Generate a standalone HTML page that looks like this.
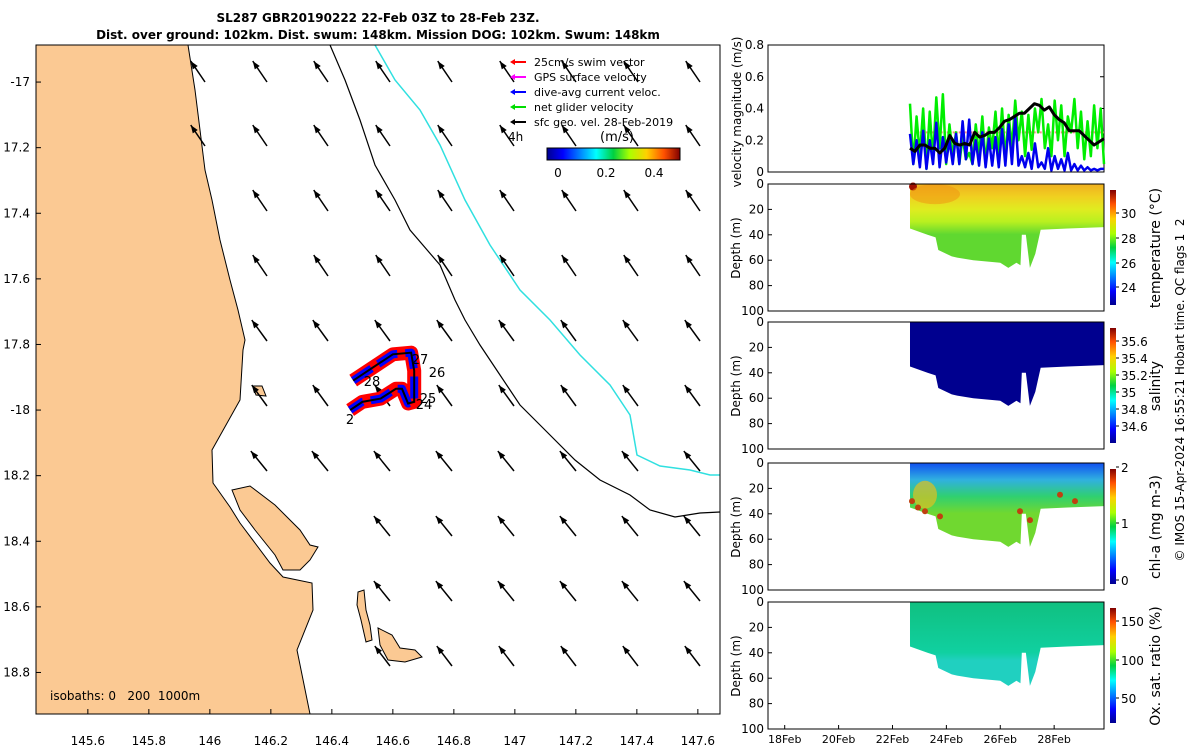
<!DOCTYPE html>
<html><head><meta charset="utf-8"><style>
body{margin:0;background:#fff;width:1200px;height:750px;overflow:hidden}
svg{font-family:"DejaVu Sans","Liberation Sans",sans-serif}
text{white-space:pre}
</style></head><body>
<svg id="s" width="1200" height="750" xmlns="http://www.w3.org/2000/svg">
<defs>
<linearGradient id="jet" x1="0" y1="1" x2="0" y2="0">
<stop offset="0" stop-color="#00008f"/><stop offset="0.12" stop-color="#0000ff"/><stop offset="0.37" stop-color="#00ffff"/><stop offset="0.5" stop-color="#00d040"/><stop offset="0.62" stop-color="#aaff00"/><stop offset="0.75" stop-color="#ffd000"/><stop offset="0.88" stop-color="#ff5000"/><stop offset="1" stop-color="#800000"/></linearGradient>
<linearGradient id="jeth" x1="0" y1="0" x2="1" y2="0">
<stop offset="0" stop-color="#00008f"/><stop offset="0.12" stop-color="#0000ff"/><stop offset="0.37" stop-color="#00ffff"/><stop offset="0.5" stop-color="#00d040"/><stop offset="0.62" stop-color="#aaff00"/><stop offset="0.75" stop-color="#ffd000"/><stop offset="0.88" stop-color="#ff5000"/><stop offset="1" stop-color="#800000"/></linearGradient>
<linearGradient id="gT" x1="0" y1="0" x2="0" y2="1"><stop offset="0" stop-color="#f0b020"/><stop offset="0.15" stop-color="#f0d020"/><stop offset="0.3" stop-color="#e0ec20"/><stop offset="0.45" stop-color="#b8f020"/><stop offset="0.6" stop-color="#60d830"/></linearGradient>
<linearGradient id="gC" x1="0" y1="0" x2="0" y2="1"><stop offset="0" stop-color="#1050f0"/><stop offset="0.2" stop-color="#30b0e0"/><stop offset="0.4" stop-color="#30d070"/><stop offset="0.6" stop-color="#70d830"/></linearGradient>
<linearGradient id="gO" x1="0" y1="0" x2="0" y2="1"><stop offset="0" stop-color="#10c080"/><stop offset="0.6" stop-color="#10d0a0"/><stop offset="0.7" stop-color="#20d0c0"/></linearGradient>
</defs>
<g id="map"></g>
<g id="right"></g>
<text x="1184" y="390" font-size="12" transform="rotate(-90 1184 390)" text-anchor="middle">© IMOS 15-Apr-2024 16:55:21 Hobart time. QC flags 1  2</text>
</svg>
<script>
// ---------- data ----------
const mapLonTicks=[145.6,145.8,146,146.2,146.4,146.6,146.8,147,147.2,147.4,147.6];
const mapLatTicks=[-17,-17.2,-17.4,-17.6,-17.8,-18,-18.2,-18.4,-18.6,-18.8];
const trackLon=[146.47,146.60,146.66,146.67,146.67,146.65,146.63,146.61,146.56,146.50,146.46];
const trackLat=[-17.91,-17.83,-17.825,-17.88,-17.975,-17.98,-17.935,-17.935,-17.965,-17.975,-18.0];
const arrowU=[-0.15,-0.15,-0.15,-0.15,-0.16,-0.16,-0.17,-0.17,-0.17,-0.16];
const arrowV=[0.22,0.22,0.22,0.22,0.22,0.22,0.21,0.21,0.21,0.21];
const dateTicks=[18,20,22,24,26,28];
const velT0=22.65, velT1=29.85;
const blackVel=[0.15,0.13,0.17,0.17,0.15,0.15,0.12,0.15,0.23,0.18,0.17,0.18,0.17,0.25,0.22,0.23,0.25,0.25,0.28,0.32,0.33,0.35,0.37,0.37,0.40,0.43,0.42,0.39,0.41,0.36,0.33,0.31,0.26,0.26,0.26,0.23,0.20,0.17,0.19,0.21];
const greenVel=[0.43,0.05,0.35,0.10,0.40,0.02,0.38,0.08,0.47,0.15,0.49,0.05,0.30,0.10,0.25,0.05,0.22,0.08,0.12,0.05,0.30,0.10,0.35,0.05,0.28,0.15,0.38,0.10,0.40,0.08,0.36,0.15,0.45,0.20,0.38,0.10,0.36,0.14,0.40,0.25,0.46,0.15,0.30,0.10,0.45,0.20,0.42,0.10,0.35,0.25,0.46,0.15,0.38,0.08,0.32,0.10,0.42,0.15,0.40,0.05];
const blueVel=[0.24,0.05,0.20,0.03,0.26,0.02,0.20,0.05,0.31,0.03,0.22,0.06,0.20,0.05,0.24,0.05,0.32,0.08,0.33,0.05,0.20,0.04,0.25,0.03,0.21,0.04,0.22,0.03,0.27,0.04,0.30,0.05,0.35,0.04,0.10,0.03,0.12,0.02,0.18,0.03,0.06,0.02,0.15,0.01,0.10,0.02,0.08,0.01,0.12,0.01,0.05,0.01,0.04,0.01,0.03,0.01,0.02,0.01,0.02,0.02];
const swimVel=0.25;
const profDay=[22.65,23.3,23.6,23.7,24.2,24.4,25.0,26.0,26.3,26.6,26.75,26.8,26.95,27.1,27.3,27.5,28.5,29.85];
const profDepth=[35,40,42,52,57,58,60,62,66,62,64,40,40,66,55,36,35,34];
// ---------- helpers ----------
const S=document.getElementById('s'),NS='http://www.w3.org/2000/svg';
function el(t,a,p){const e=document.createElementNS(NS,t);for(const k in a)e.setAttribute(k,a[k]);(p||S).appendChild(e);return e;}
function tx(x,y,s,fs,anc,p,rot){const e=el('text',{x:x,y:y,'font-size':fs||12,'text-anchor':anc||'middle'},p);if(rot)e.setAttribute('transform','rotate(-90 '+x+' '+y+')');e.textContent=s;return e;}
const M=document.getElementById('map'),R=document.getElementById('right');
const mx=lon=>36+(lon-145.43)*305, my=lat=>45+(-16.887-lat)*328;
// ---------- map ----------
tx(378,22,'SL287 GBR20190222 22-Feb 03Z to 28-Feb 23Z.',12,'middle',M).setAttribute('font-weight','bold');
tx(378,39,'Dist. over ground: 102km. Dist. swum: 148km. Mission DOG: 102km. Swum: 148km',12,'middle',M).setAttribute('font-weight','bold');
let land=el('polygon',{points:'36,45 188,45 195,90 200,130 205,170 212,200 220,240 230,280 238,310 245,340 243,350 240,400 212,450 213,483 230,507 240,523 270,563 283,577 312,583 313,610 297,650 310,714 36,714',fill:'#fbc993',stroke:'#000','stroke-width':1},M);

let pen=el('polygon',{points:'232,490 250,486 275,505 290,520 300,530 310,545 318,547 310,560 300,570 283,570 275,555 255,530 240,510',fill:'#fbc993',stroke:'#000','stroke-width':1},M);

el('polygon',{points:'358,592 364,590 366,610 370,625 372,640 366,642 361,620 357,605',fill:'#fbc993',stroke:'#000'},M);
el('polygon',{points:'378,628 392,635 400,648 415,650 422,657 405,662 388,660 380,645',fill:'#fbc993',stroke:'#000'},M);
el('polygon',{points:'253,386 262,386 266,396 256,395',fill:'#fbc993',stroke:'#000'},M);
el('polyline',{points:'330,45 345,80 360,120 375,165 395,200 410,230 440,265 455,300 465,320 480,345 500,375 520,405 545,430 575,460 600,480 630,495 650,510 675,517 700,513 720,512',fill:'none',stroke:'#000','stroke-width':1.2},M);
el('polyline',{points:'375,45 395,80 420,110 440,145 465,200 490,245 520,290 550,320 580,355 610,385 630,415 637,455 660,466 690,470 710,475 720,475',fill:'none',stroke:'#30e0e0','stroke-width':1.5},M);
const cols=[205,267,328,390,452,514,576,638,700],rows=[82,146,211,276,341,406,471,536,601,666];
const coastX=[190,200,210,225,240,245,250,330,330,330];
rows.forEach((y,ri)=>cols.forEach((x,ci)=>{
 if(x<coastX[ri]+5)return;
 const dx=arrowU[ri]*95,dy=-arrowV[ri]*95;
 const a=el('line',{x1:x,y1:y,x2:x+dx,y2:y+dy,stroke:'#000','stroke-width':1.5},M);
 
 
 const L=Math.hypot(dx,dy),ux=dx/L,uy=dy/L;
 el('polygon',{points:`${x+dx},${y+dy} ${x+dx-ux*8-uy*3},${y+dy-uy*8+ux*3} ${x+dx-ux*8+uy*3},${y+dy-uy*8-ux*3}`,fill:'#000'},M);
}));
const tp=trackLon.map((l,i)=>mx(l)+','+my(trackLat[i])).join(' ');
el('polyline',{points:tp,fill:'none',stroke:'#f00','stroke-width':14,'stroke-linejoin':'round'},M);
el('polyline',{points:tp,fill:'none',stroke:'#00f','stroke-width':8,'stroke-linejoin':'round','stroke-dasharray':'22 8'},M);
const trk=el('polyline',{points:tp,fill:'none',stroke:'#000','stroke-width':2},M);

[['2',350,424],['24',424,409],['25',428,403],['26',437,377],['27',420,364],['28',372,386]].forEach(d=>tx(d[1],d[2],d[0],13,'middle',M));
el('rect',{x:36,y:45,width:684,height:669,fill:'none',stroke:'#000'},M);
mapLonTicks.forEach(v=>{const x=mx(v);el('line',{x1:x,y1:714,x2:x,y2:709,stroke:'#000'},M);tx(x,745,String(v),12,'middle',M);});
mapLatTicks.forEach(v=>{const y=my(v);el('line',{x1:36,y1:y,x2:41,y2:y,stroke:'#000'},M);tx(30,y+4,v===-17||v===-18?String(v):String(Math.abs(v)),12,'end',M);});
tx(50,700,'isobaths: 0   200  1000m',12,'start',M);
const leg=[['#f00','25cm/s swim vector'],['#f0f','GPS surface velocity'],['#00f','dive-avg current veloc.'],['#0d0','net glider velocity'],['#000','sfc geo. vel. 28-Feb-2019']];
leg.forEach((d,i)=>{const y=62+i*15;const g=el('g',{},M);
 el('line',{x1:512,y1:y,x2:526,y2:y,stroke:d[0],'stroke-width':2},g);el('polygon',{points:`510,${y} 515,${y-3} 515,${y+3}`,fill:d[0]},g);tx(534,y+4,d[1],11,'start',g);});
tx(508,141,'4h',12,'start',M);tx(617,141,'(m/s)',13,'middle',M);
el('rect',{x:547,y:148,width:133,height:12,fill:'url(#jeth)',stroke:'#000'},M);
[['0',558],['0.2',606],['0.4',654]].forEach(d=>tx(d[1],177,d[0],12,'middle',M));
// ---------- right panels ----------
const X0=768,X1=1104,tx0=17.38,tx1=29.85;
const tX=d=>X0+(d-tx0)/(tx1-tx0)*(X1-X0);
const vy=v=>172-v/0.8*127;
el('rect',{x:X0,y:45,width:X1-X0,height:127,fill:'none',stroke:'#000'},R);
[0,0.2,0.4,0.6,0.8].forEach(v=>{tx(764,vy(v)+4,String(v),12,'end',R);el('line',{x1:X1,y1:vy(v),x2:X1-4,y2:vy(v),stroke:'#000'},R);});
tx(741,112,'velocity magnitude (m/s)',12,'middle',R,1);
function series(arr,col,w,name){const pts=arr.map((v,i)=>tX(velT0+i*(velT1-velT0)/(arr.length-1))+','+vy(v)).join(' ');const p=el('polyline',{points:pts,fill:'none',stroke:col,'stroke-width':w,'stroke-linejoin':'round'},R);}
el('line',{x1:tX(22.9),y1:vy(swimVel),x2:X1,y2:vy(swimVel),stroke:'#f88','stroke-width':2,'stroke-dasharray':'2 1'},R);
series(greenVel,'#00ee00',2.5,'net-glider-velocity-line');
series(blueVel,'#0000ee',2.5,'dive-avg-current-line');
series(blackVel,'#000',3,'surface-geo-velocity-line');
const panels=[{y:184,fill:'url(#gT)',name:'temperature',lab:'temperature (°C)',tk:[['30',213],['28',238],['26',263],['24',287]]},
{y:322,fill:'#00008f',name:'salinity',lab:'salinity',tk:[['35.6',341],['35.4',358],['35.2',375],['35',392],['34.8',409],['34.6',426]]},
{y:463,fill:'url(#gC)',name:'chlorophyll',lab:'chl-a (mg m-3)',tk:[['2',467],['1',523],['0',580]]},
{y:602,fill:'url(#gO)',name:'oxygen',lab:'Ox. sat. ratio (%)',tk:[['150',621],['100',660],['50',698]]}];
panels.forEach((P,pi)=>{
 const dy=d=>P.y+d/100*127;
 const g=el('g',{},R);
 let pts=tX(profDay[0])+','+dy(0)+' '+tX(profDay[profDay.length-1])+','+dy(0)+' ';
 for(let i=profDay.length-1;i>=0;i--)pts+=tX(profDay[i])+','+dy(profDepth[i])+' ';
 el('polygon',{points:pts,fill:P.fill},g);
 if(pi===0){el('ellipse',{cx:913,cy:dy(2),rx:4,ry:4,fill:'#a01000'},g);el('ellipse',{cx:935,cy:dy(8),rx:25,ry:10,fill:'#f09010',opacity:0.5},g);}
 if(pi===2){el('ellipse',{cx:925,cy:dy(25),rx:12,ry:14,fill:'#e0c020',opacity:0.7},g);[[912,30],[918,35],[925,38],[940,42],[1020,38],[1030,45],[1060,25],[1075,30]].forEach(c=>el('circle',{cx:c[0],cy:dy(c[1]),r:3,fill:'#c04010'},g));}
 el('rect',{x:X0,y:P.y,width:X1-X0,height:127,fill:'none',stroke:'#000'},g);
 [0,20,40,60,80,100].forEach(d=>{tx(764,dy(d)+4,String(d),12,'end',g);el('line',{x1:X0,y1:dy(d),x2:X0+4,y2:dy(d),stroke:'#000'},g);});
 tx(740,P.y+64,'Depth (m)',12,'middle',g,1);
 const cb=el('rect',{x:1110,y:P.y+6,width:6,height:115,fill:'url(#jet)'},g);
 P.tk.forEach(t=>{el('line',{x1:1116,y1:t[1],x2:1119,y2:t[1],stroke:'#000'},g);tx(1121,t[1]+5,t[0],12,'start',g);});
 tx(1160,P.y+64,P.lab,14,'middle',g,1);
});
dateTicks.forEach(d=>{const x=tX(d);el('line',{x1:x,y1:729,x2:x,y2:725,stroke:'#000'},R);tx(x,743,d+'Feb',11,'middle',R);});
</script>
</body></html>
